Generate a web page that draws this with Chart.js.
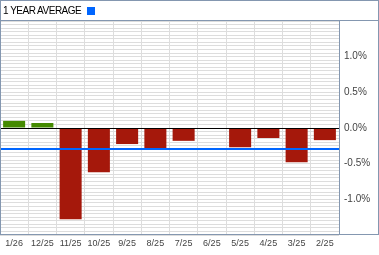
<!DOCTYPE html>
<html>
<head>
<meta charset="utf-8">
<script src="https://cdn.jsdelivr.net/npm/chart.js@4/dist/chart.umd.min.js"></script>
<style>
    html, body { margin: 0; padding: 0; background: #fff; }
    #wrap { position: relative; width: 379px; height: 255px; }
    #chart { position: absolute; left: 0; top: 0; }
    #title {
        position: absolute; left: 3px; top: 5px;
        font: 10px "Liberation Sans", Arial, sans-serif;
        line-height: 11px; letter-spacing: -0.5px; color: #000;
        white-space: nowrap;
    }
    #swatch {
        position: absolute; left: 87px; top: 7px;
        width: 8px; height: 8px; background: #0066ff;
    }
</style>
</head>
<body>
<div id="wrap">
    <canvas id="chart" width="379" height="255"></canvas>
    <div id="title">1 YEAR AVERAGE</div>
    <div id="swatch"></div>
</div>
<script>
const monthLabels = ['1/26', '12/25', '11/25', '10/25', '9/25', '8/25', '7/25', '6/25', '5/25', '4/25', '3/25', '2/25'];
const changeValues = [0.1, 0.07, -1.28, -0.62, -0.225, -0.285, -0.18, 0, -0.27, -0.14, -0.48, -0.17];
const averageValue = -0.29;
const yMin = -1.5;
const yMax = 1.5;
const labelledTicks = [1.0, 0.5, 0.0, -0.5, -1.0];

const GREEN = '#448a00';
const RED = '#a5180b';
const FRAME = '#8497b0';

// frame, zero line and average line
const overlay = {
    id: 'overlay',
    afterDatasetsDraw(chart) {
        const { ctx, chartArea } = chart;
        const y = chart.scales.y;
        const zero = Math.round(y.getPixelForValue(0)) + 0.5;
        const avg = Math.round(y.getPixelForValue(averageValue));
        ctx.save();
        ctx.strokeStyle = '#000';
        ctx.lineWidth = 1;
        ctx.beginPath();
        ctx.moveTo(chartArea.left, zero);
        ctx.lineTo(chartArea.right, zero);
        ctx.stroke();
        ctx.strokeStyle = '#0066ff';
        ctx.lineWidth = 2;
        ctx.beginPath();
        ctx.moveTo(chartArea.left, avg);
        ctx.lineTo(chartArea.right, avg);
        ctx.stroke();
        ctx.restore();
    },
    afterDraw(chart) {
        const { ctx, chartArea } = chart;
        ctx.save();
        ctx.strokeStyle = FRAME;
        ctx.lineWidth = 1;
        ctx.strokeRect(0.5, 0.5, 378, 234);
        ctx.beginPath();
        ctx.moveTo(0, 20.5);
        ctx.lineTo(379, 20.5);
        ctx.moveTo(chartArea.right + 0.5, 20);
        ctx.lineTo(chartArea.right + 0.5, 235);
        ctx.stroke();
        ctx.restore();
    }
};

new Chart(document.getElementById('chart'), {
    type: 'bar',
    data: {
        labels: monthLabels,
        datasets: [{
            data: changeValues,
            backgroundColor: changeValues.map(v => v >= 0 ? GREEN : RED),
            barPercentage: 0.78,
            categoryPercentage: 1.0,
            borderWidth: 0
        }]
    },
    options: {
        responsive: false,
        animation: false,
        layout: { padding: { top: 21, left: 0, right: 0, bottom: 0 } },
        plugins: {
            legend: { display: false },
            tooltip: { enabled: false }
        },
        scales: {
            x: {
                afterFit: s => { s.height = 20; },
                border: { display: false },
                grid: { color: '#dddddd', lineWidth: 1, drawTicks: false, offset: true },
                ticks: {
                    color: '#444',
                    padding: 3,
                    maxRotation: 0,
                    autoSkip: false,
                    font: { family: '"Liberation Sans", Arial, sans-serif', size: 9 }
                }
            },
            y: {
                position: 'right',
                min: yMin,
                max: yMax,
                afterFit: s => { s.width = 40; },
                border: { display: false },
                grid: {
                    drawTicks: false,
                    lineWidth: 1,
                    color: c => Math.abs(c.tick.value) < 1e-6 ? '#000' : '#dddddd'
                },
                ticks: {
                    stepSize: 0.05,
                    autoSkip: false,
                    padding: 5,
                    color: '#444',
                    font: { family: '"Liberation Sans", Arial, sans-serif', size: 10 },
                    callback: v => {
                        const hit = labelledTicks.find(t => Math.abs(t - v) < 1e-6);
                        return hit === undefined ? '' : hit.toFixed(1) + '%';
                    }
                }
            }
        }
    },
    plugins: [overlay]
});
</script>
</body>
</html>
